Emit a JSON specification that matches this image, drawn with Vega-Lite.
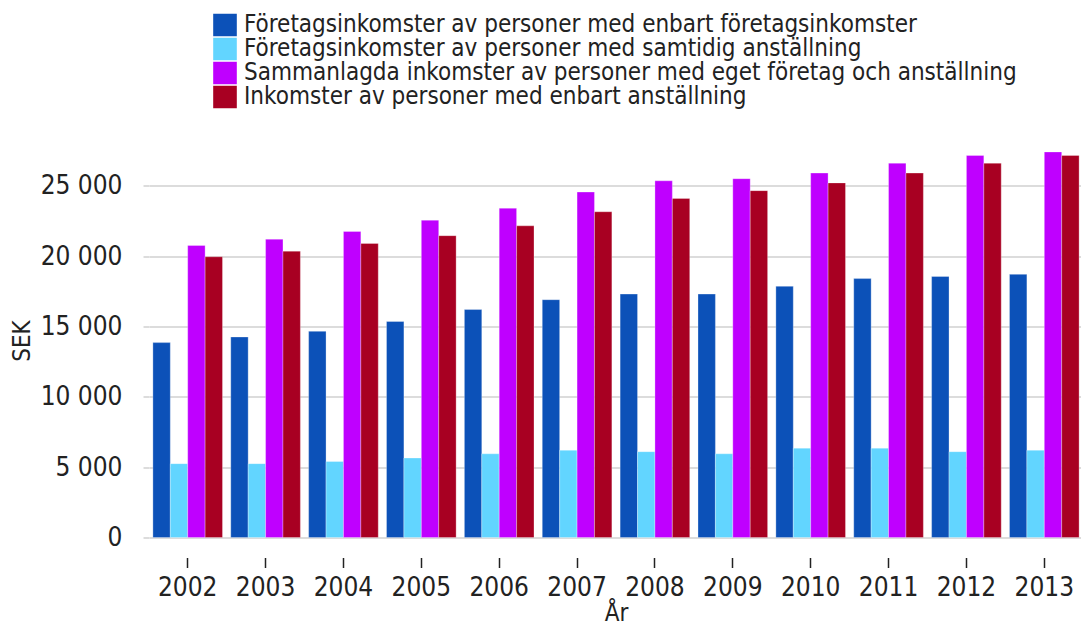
{
  "$schema": "https://vega.github.io/schema/vega-lite/v6.json",
  "autosize": "none",
  "width": 934,
  "height": 394,
  "padding": {"left": 149, "top": 143.5, "right": 0, "bottom": 91.5},
  "background": "white",
  "config": {
    "view": {"stroke": null},
    "font": "DejaVu Sans Condensed, Liberation Sans Narrow, DejaVu Sans",
    "locale": {"number": {"decimal": ",", "thousands": "\u00a0", "grouping": [3], "currency": ["", " kr"]}}
  },
  "data": {
    "values": [
      {"year": "2002", "series": "Företagsinkomster av personer med enbart företagsinkomster", "value": 13850},
      {"year": "2002", "series": "Företagsinkomster av personer med samtidig anställning", "value": 5250},
      {"year": "2002", "series": "Sammanlagda inkomster av personer med eget företag och anställning", "value": 20750},
      {"year": "2002", "series": "Inkomster av personer med enbart anställning", "value": 19950},
      {"year": "2003", "series": "Företagsinkomster av personer med enbart företagsinkomster", "value": 14250},
      {"year": "2003", "series": "Företagsinkomster av personer med samtidig anställning", "value": 5250},
      {"year": "2003", "series": "Sammanlagda inkomster av personer med eget företag och anställning", "value": 21200},
      {"year": "2003", "series": "Inkomster av personer med enbart anställning", "value": 20350},
      {"year": "2004", "series": "Företagsinkomster av personer med enbart företagsinkomster", "value": 14650},
      {"year": "2004", "series": "Företagsinkomster av personer med samtidig anställning", "value": 5400},
      {"year": "2004", "series": "Sammanlagda inkomster av personer med eget företag och anställning", "value": 21750},
      {"year": "2004", "series": "Inkomster av personer med enbart anställning", "value": 20900},
      {"year": "2005", "series": "Företagsinkomster av personer med enbart företagsinkomster", "value": 15350},
      {"year": "2005", "series": "Företagsinkomster av personer med samtidig anställning", "value": 5650},
      {"year": "2005", "series": "Sammanlagda inkomster av personer med eget företag och anställning", "value": 22550},
      {"year": "2005", "series": "Inkomster av personer med enbart anställning", "value": 21450},
      {"year": "2006", "series": "Företagsinkomster av personer med enbart företagsinkomster", "value": 16200},
      {"year": "2006", "series": "Företagsinkomster av personer med samtidig anställning", "value": 5950},
      {"year": "2006", "series": "Sammanlagda inkomster av personer med eget företag och anställning", "value": 23400},
      {"year": "2006", "series": "Inkomster av personer med enbart anställning", "value": 22150},
      {"year": "2007", "series": "Företagsinkomster av personer med enbart företagsinkomster", "value": 16900},
      {"year": "2007", "series": "Företagsinkomster av personer med samtidig anställning", "value": 6200},
      {"year": "2007", "series": "Sammanlagda inkomster av personer med eget företag och anställning", "value": 24550},
      {"year": "2007", "series": "Inkomster av personer med enbart anställning", "value": 23150},
      {"year": "2008", "series": "Företagsinkomster av personer med enbart företagsinkomster", "value": 17300},
      {"year": "2008", "series": "Företagsinkomster av personer med samtidig anställning", "value": 6100},
      {"year": "2008", "series": "Sammanlagda inkomster av personer med eget företag och anställning", "value": 25350},
      {"year": "2008", "series": "Inkomster av personer med enbart anställning", "value": 24100},
      {"year": "2009", "series": "Företagsinkomster av personer med enbart företagsinkomster", "value": 17300},
      {"year": "2009", "series": "Företagsinkomster av personer med samtidig anställning", "value": 5950},
      {"year": "2009", "series": "Sammanlagda inkomster av personer med eget företag och anställning", "value": 25500},
      {"year": "2009", "series": "Inkomster av personer med enbart anställning", "value": 24650},
      {"year": "2010", "series": "Företagsinkomster av personer med enbart företagsinkomster", "value": 17850},
      {"year": "2010", "series": "Företagsinkomster av personer med samtidig anställning", "value": 6350},
      {"year": "2010", "series": "Sammanlagda inkomster av personer med eget företag och anställning", "value": 25900},
      {"year": "2010", "series": "Inkomster av personer med enbart anställning", "value": 25200},
      {"year": "2011", "series": "Företagsinkomster av personer med enbart företagsinkomster", "value": 18400},
      {"year": "2011", "series": "Företagsinkomster av personer med samtidig anställning", "value": 6350},
      {"year": "2011", "series": "Sammanlagda inkomster av personer med eget företag och anställning", "value": 26600},
      {"year": "2011", "series": "Inkomster av personer med enbart anställning", "value": 25900},
      {"year": "2012", "series": "Företagsinkomster av personer med enbart företagsinkomster", "value": 18550},
      {"year": "2012", "series": "Företagsinkomster av personer med samtidig anställning", "value": 6100},
      {"year": "2012", "series": "Sammanlagda inkomster av personer med eget företag och anställning", "value": 27150},
      {"year": "2012", "series": "Inkomster av personer med enbart anställning", "value": 26600},
      {"year": "2013", "series": "Företagsinkomster av personer med enbart företagsinkomster", "value": 18700},
      {"year": "2013", "series": "Företagsinkomster av personer med samtidig anställning", "value": 6200},
      {"year": "2013", "series": "Sammanlagda inkomster av personer med eget företag och anställning", "value": 27400},
      {"year": "2013", "series": "Inkomster av personer med enbart anställning", "value": 27150}
    ]
  },
  "mark": {"type": "bar", "stroke": "white", "strokeWidth": 0.5, "strokeOpacity": 0.6},
  "encoding": {
    "x": {
      "field": "year",
      "type": "nominal",
      "scale": {"paddingInner": 0.106, "paddingOuter": 0.05},
      "axis": {
        "title": "År",
        "titleFontSize": 24,
        "titleFontWeight": "normal",
        "titleColor": "#222",
        "titlePadding": 1,
        "labelAngle": 0,
        "labelFontSize": 26,
        "labelColor": "#222",
        "labelPadding": 7,
        "labelDx": 3,
        "domain": false,
        "offset": 20,
        "tickSize": 10,
        "tickColor": "#222",
        "tickWidth": 1.5,
        "grid": false
      }
    },
    "xOffset": {
      "field": "series",
      "type": "nominal",
      "sort": [
        "Företagsinkomster av personer med enbart företagsinkomster",
        "Företagsinkomster av personer med samtidig anställning",
        "Sammanlagda inkomster av personer med eget företag och anställning",
        "Inkomster av personer med enbart anställning"
      ],
      "scale": {"paddingInner": 0, "paddingOuter": 0}
    },
    "y": {
      "field": "value",
      "type": "quantitative",
      "scale": {"domain": [0, 28000], "nice": false},
      "axis": {
        "title": "SEK",
        "titleFontSize": 24,
        "titleFontWeight": "normal",
        "titleColor": "#222",
        "titlePadding": 6,
        "values": [0, 5000, 10000, 15000, 20000, 25000],
        "format": ",d",
        "labelFontSize": 26,
        "labelColor": "#222",
        "labelPadding": 21,
        "domain": false,
        "tickSize": 6,
        "tickColor": "#dcdcdc",
        "tickWidth": 2,
        "grid": true,
        "gridColor": "#dcdcdc",
        "gridWidth": 2
      }
    },
    "color": {
      "field": "series",
      "type": "nominal",
      "scale": {
        "domain": [
          "Företagsinkomster av personer med enbart företagsinkomster",
          "Företagsinkomster av personer med samtidig anställning",
          "Sammanlagda inkomster av personer med eget företag och anställning",
          "Inkomster av personer med enbart anställning"
        ],
        "range": ["#0c51b8", "#62d5ff", "#bf00ff", "#a80022"]
      },
      "legend": {
        "title": null,
        "orient": "none",
        "legendX": 64,
        "legendY": -130.5,
        "padding": 0,
        "symbolType": "M-1.05,-1H1.05V1H-1.05Z",
        "symbolSize": 506,
        "symbolStrokeWidth": 0,
        "symbolOpacity": 1,
        "rowPadding": -1.5,
        "labelOffset": 7,
        "labelFontSize": 24,
        "labelColor": "#222",
        "labelLimit": 1000
      }
    }
  }
}
